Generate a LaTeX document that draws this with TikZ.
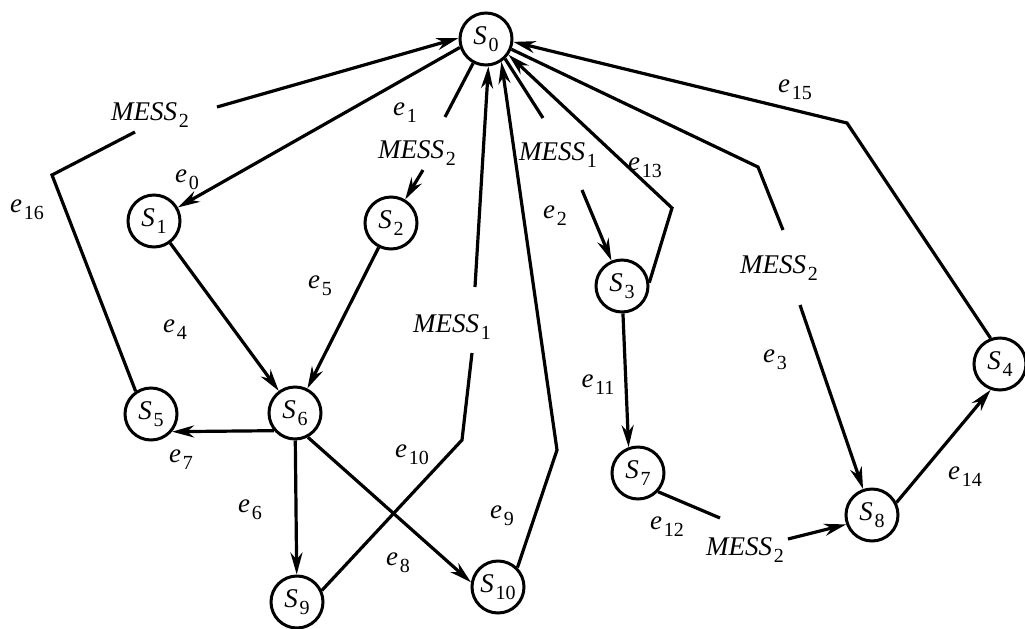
\documentclass[tikz,border=0pt]{standalone}
\usepackage{fontspec}
\setmainfont{Liberation Serif}
\usetikzlibrary{arrows.meta}
\newcommand{\lab}[2]{\textit{#1}\kern0.8pt\raisebox{-0.55ex}{\fontsize{10}{11}\selectfont #2}}

\begin{document}
\begin{tikzpicture}[x=0.5pt, y=-0.5pt, font=\fontsize{13.5}{15}\selectfont,
	>={Stealth[length=11pt,width=6pt,inset=3.5pt]}, line width=1.6pt]
	\tikzset{state/.style={circle, draw, line width=1.5pt, minimum size=26pt, inner sep=0pt},
		mess/.style={inner sep=2pt}}
	\useasboundingbox (0,0) rectangle (1025,628);
	
	\node[state] (s0) at (486,39) {\lab{S}{0}};
	\node[state] (s1) at (154,221) {\lab{S}{1}};
	\node[state] (s2) at (391,223) {\lab{S}{2}};
	\node[state] (s3) at (622,286) {\lab{S}{3}};
	\node[state] (s4) at (1000,364) {\lab{S}{4}};
	\node[state] (s5) at (151,414) {\lab{S}{5}};
	\node[state] (s6) at (295,413) {\lab{S}{6}};
	\node[state] (s7) at (638,473) {\lab{S}{7}};
	\node[state] (s8) at (872,515) {\lab{S}{8}};
	\node[state] (s9) at (297,602) {\lab{S}{9}};
	\node[state] (s10) at (498,587) {\lab{S}{10}};
	
	\node[mess] (m16) at (150,115) {\lab{MESS}{2}};
	\node[mess] (m1) at (417,153) {\lab{MESS}{2}};
	\node[mess] (m2) at (558,155) {\lab{MESS}{1}};
	\node[mess] (m3) at (779,268) {\lab{MESS}{2}};
	\node[mess] (m10) at (452,327) {\lab{MESS}{1}};
	\node[mess] (m12) at (745,550) {\lab{MESS}{2}};
	
	% bends and loose ends next to the messages
	\coordinate (b16) at (52,175); \coordinate (m16a) at (135,132); \coordinate (m16b) at (217,107);
	\coordinate (m1a) at (445,117); \coordinate (m1b) at (423,170);
	\coordinate (m2a) at (543,118); \coordinate (m2b) at (582,190);
	\coordinate (b3) at (758,167); \coordinate (m3a) at (783,230); \coordinate (m3b) at (800,305);
	\coordinate (b9) at (557,450);
	\coordinate (b10) at (462,440); \coordinate (m10a) at (472,353); \coordinate (m10b) at (475,287);
	\coordinate (m12a) at (720,518); \coordinate (m12b) at (788,539);
	\coordinate (b13) at (672,208);
	\coordinate (b15) at (847,123);
	
	\draw[->] (s0.198) -- (s1);
	\draw (s0.242) -- (m1a); \draw[->] (m1b) -- (s2);
	\draw (s0.314) -- (m2a); \draw[->] (m2b) -- (s3);
	\draw (s0.338) -- (b3) -- (m3a); \draw[->] (m3b) -- (s8);
	\draw[->] (s1) -- (s6);
	\draw[->] (s2) -- (s6);
	\draw[->] (s6) -- (s9);
	\draw[->] (s6.220) -- (s5.320);
	\draw[->] (s6.298) -- (s10.170);
	\draw[->] (s10.45) -- (b9) -- (s0.304);
	\draw (s9.25) -- (b10) -- (m10a); \draw[->] (m10b) -- (s0.275);
	\draw[->] (s3.272) -- (s7.110);
	\draw (s7.-43) -- (m12a); \draw[->] (m12b) -- (s8.200);
	\draw[->] (s3.7) -- (b13) -- (s0.325);
	\draw[->] (s8.27) -- (s4.250);
	\draw[->] (s4.110) -- (b15) -- (s0.354);
	\draw (s5.124) -- (b16) -- (m16a); \draw[->] (m16b) -- (s0.178);
	
	\node (l0) at (187,180) {\lab{e}{0}};
	\node (l1) at (405,113) {\lab{e}{1}};
	\node (l2) at (555,216) {\lab{e}{2}};
	\node (l3) at (775,360) {\lab{e}{3}};
	\node (l4) at (175,330) {\lab{e}{4}};
	\node (l5) at (320,286) {\lab{e}{5}};
	\node (l6) at (250,510) {\lab{e}{6}};
	\node (l7) at (181,460) {\lab{e}{7}};
	\node (l8) at (398,563) {\lab{e}{8}};
	\node (l9) at (502,516) {\lab{e}{9}};
	\node (l10) at (412,455) {\lab{e}{10}};
	\node (l11) at (598,385) {\lab{e}{11}};
	\node (l12) at (667,527) {\lab{e}{12}};
	\node (l13) at (645,168) {\lab{e}{13}};
	\node (l14) at (965,477) {\lab{e}{14}};
	\node (l15) at (795,90) {\lab{e}{15}};
	\node (l16) at (27,210) {\lab{e}{16}};
\end{tikzpicture}
\end{document}
